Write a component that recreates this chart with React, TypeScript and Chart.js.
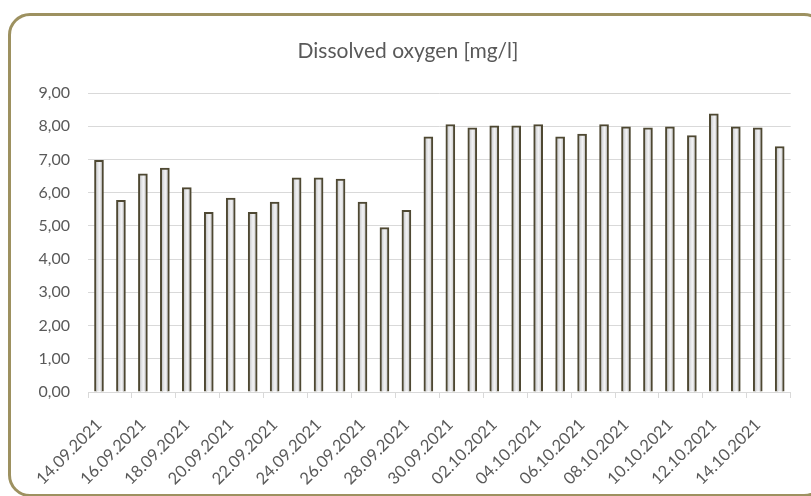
import React, { useEffect, useRef } from "react";
import { Chart, registerables } from "chart.js";

Chart.register(...registerables);

const categories: string[] = [
  "14.09.2021", "15.09.2021", "16.09.2021", "17.09.2021", "18.09.2021", "19.09.2021",
  "20.09.2021", "21.09.2021", "22.09.2021", "23.09.2021", "24.09.2021", "25.09.2021",
  "26.09.2021", "27.09.2021", "28.09.2021", "29.09.2021", "30.09.2021", "01.10.2021",
  "02.10.2021", "03.10.2021", "04.10.2021", "05.10.2021", "06.10.2021", "07.10.2021",
  "08.10.2021", "09.10.2021", "10.10.2021", "11.10.2021", "12.10.2021", "13.10.2021",
  "14.10.2021", "15.10.2021",
];

const oxygen: number[] = [
  6.97, 5.77, 6.57, 6.74, 6.15, 5.41, 5.84, 5.41, 5.72, 6.45, 6.45, 6.41,
  5.72, 4.95, 5.47, 7.68, 8.05, 7.95, 8.01, 8.01, 8.05, 7.68, 7.76, 8.05,
  7.98, 7.95, 7.98, 7.72, 8.37, 7.98, 7.95, 7.39,
];

const yTicks: number[] = [0, 1, 2, 3, 4, 5, 6, 7, 8, 9];

const TITLE = "Dissolved oxygen [mg/l]";
const FONT = "Lato, 'Open Sans', sans-serif";
const TEXT = "#595959";
const GRID = "#d9d9d9";

const barShading = {
  id: "barShading",
  beforeDatasetsDraw(chart: any) {
    const ctx = chart.ctx;
    const meta = chart.getDatasetMeta(0);
    meta.data.forEach((el: any) => {
      const x = el.x;
      const half = (el.width || 9) / 2;
      if (!Number.isFinite(x)) return;
      const g = ctx.createLinearGradient(x - half, 0, x + half, 0);
      g.addColorStop(0, "#b3b3b3");
      g.addColorStop(0.35, "#dfe0e2");
      g.addColorStop(0.55, "#f3f3f5");
      g.addColorStop(1, "#b8b8b8");
      if (el.options) el.options.backgroundColor = g;
    });
  },
};

export default function App() {
  const ref = useRef<HTMLCanvasElement | null>(null);

  useEffect(() => {
    if (!ref.current) return;
    const chart = new Chart(ref.current, {
      type: "bar",
      data: {
        labels: categories,
        datasets: [
          {
            label: TITLE,
            data: oxygen,
            borderColor: "#4e4832",
            borderWidth: 2,
            barThickness: 9,
            backgroundColor: (_ctx: any) => "#dddddd",
          },
        ],
      },
      plugins: [barShading],
      options: {
        responsive: false,
        animation: false,
        layout: { padding: { top: 93, right: 18, bottom: 0, left: 0 } },
        plugins: {
          legend: { display: false },
          tooltip: { enabled: false },
          title: { display: false },
        },
        scales: {
          x: {
            offset: true,
            grid: {
              offset: true,
              drawOnChartArea: false,
              drawTicks: true,
              tickLength: 6,
              color: (ctx: any) =>
                ctx.index === undefined || ctx.index % 2 === 0 ? GRID : "rgba(0,0,0,0)",
            },
            border: { display: true, color: GRID, width: 1 },
            ticks: {
              autoSkip: false,
              maxRotation: 45,
              minRotation: 45,
              padding: 17,
              color: TEXT,
              font: { family: FONT, size: 16.5 },
              callback: (_v: any, i: number) => (i % 2 === 0 ? categories[i] : ""),
            },
            afterFit: (s: any) => {
              s.height = 104;
            },
          },
          y: {
            min: 0,
            max: 9,
            grid: { color: GRID, lineWidth: 1, drawTicks: false },
            border: { display: false },
            afterBuildTicks: (s: any) => {
              s.ticks = yTicks.map((v) => ({ value: v }));
            },
            ticks: {
              padding: 18,
              color: TEXT,
              font: { family: FONT, size: 16 },
              callback: (v: any) => Number(v).toFixed(2).replace(".", ","),
            },
            afterFit: (s: any) => {
              s.width = 88;
            },
          },
        },
      },
    });
    return () => chart.destroy();
  }, []);

  return (
    <div
      style={{
        position: "fixed",
        left: 0,
        top: 0,
        width: 811,
        height: 496,
        overflow: "hidden",
        background: "#ffffff",
      }}
    >
      <div
        style={{
          position: "absolute",
          left: 8,
          top: 13,
          width: 818,
          height: 484,
          border: "3px solid #9d9160",
          borderRadius: 22,
          background: "#ffffff",
          boxSizing: "border-box",
        }}
      />
      <canvas
        ref={ref}
        width={811}
        height={496}
        style={{ position: "absolute", left: 0, top: 0, display: "block" }}
      />
      <div
        style={{
          position: "absolute",
          left: 208,
          width: 400,
          top: 36,
          textAlign: "center",
          fontFamily: FONT,
          fontSize: 21,
          lineHeight: "28px",
          color: TEXT,
          whiteSpace: "nowrap",
        }}
      >
        {TITLE}
      </div>
    </div>
  );
}
